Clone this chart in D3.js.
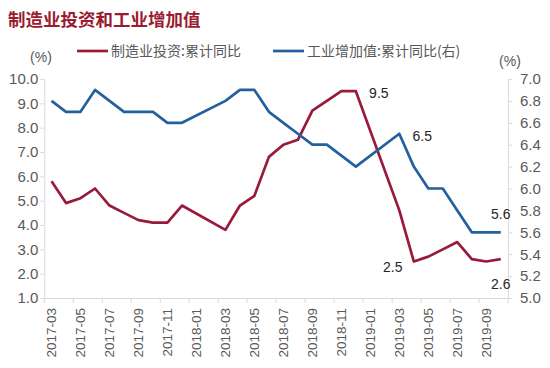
<!DOCTYPE html>
<html>
<head>
<meta charset="utf-8">
<script src="https://cdn.jsdelivr.net/npm/d3@7"></script>
<style>
    body { margin: 0; background: #fff; }
    .tick text { fill: #595959; }
</style>
</head>
<body>
<div class="chart"></div>
<script>
const title = '制造业投资和工业增加值'
const seriesNames = ['制造业投资:累计同比', '工业增加值:累计同比(右)']

const months = [
    '2017-03', '2017-04', '2017-05', '2017-06', '2017-07', '2017-08', '2017-09', '2017-10', '2017-11', '2017-12',
    '2018-01', '2018-02', '2018-03', '2018-04', '2018-05', '2018-06', '2018-07', '2018-08', '2018-09', '2018-10',
    '2018-11', '2018-12', '2019-01', '2019-02', '2019-03', '2019-04', '2019-05', '2019-06', '2019-07', '2019-08',
    '2019-09', '2019-10'
]
// Jan/Feb are not published separately, the line just bridges them
const investment = [
    5.8, 4.9, 5.1, 5.5, 4.8, 4.5, 4.2, 4.1, 4.1, 4.8,
    null, null, 3.8, 4.8, 5.2, 6.8, 7.3, 7.5, 8.7, 9.1,
    9.5, 9.5, null, null, 4.6, 2.5, 2.7, 3.0, 3.3, 2.6,
    2.5, 2.6
]
const valueAdded = [
    6.8, 6.7, 6.7, 6.9, 6.8, 6.7, 6.7, 6.7, 6.6, 6.6,
    null, null, 6.8, 6.9, 6.9, 6.7, 6.6, 6.5, 6.4, 6.4,
    6.3, 6.2, null, null, 6.5, 6.2, 6.0, 6.0, 5.8, 5.6,
    5.6, 5.6
]
const leftTicks = [1, 2, 3, 4, 5, 6, 7, 8, 9, 10]
const rightTicks = [5.0, 5.2, 5.4, 5.6, 5.8, 6.0, 6.2, 6.4, 6.6, 6.8, 7.0]
const xLabels = months.filter((m, i) => i % 2 === 0)
// which points get a value label
const labelPoints = [
    ['investment', '2018-12'],
    ['investment', '2019-04'],
    ['investment', '2019-10'],
    ['valueAdded', '2019-03'],
    ['valueAdded', '2019-10']
]

class DualAxisChart {

    constructor(options) {
        this.fullWidth = options.width
        this.fullHeight = options.height
        this.margin = { top: 79, right: 42, bottom: 70, left: 44.3 }
        this.width = this.fullWidth - this.margin.left - this.margin.right
        this.height = this.fullHeight - this.margin.top - this.margin.bottom
        this.red = '#9a1a3b'
        this.blue = '#23609e'
        this.axisColour = '#d9d9d9'
        this.textColour = '#595959'
        this.numberFont = '"Liberation Sans", Arial, sans-serif'
        this.cjkFont = '"Noto Sans CJK SC", sans-serif'
    }

    render() {
        this.svg = d3.select('.chart').append('svg')
            .attr('width', this.fullWidth)
            .attr('height', this.fullHeight)
        this.canvas = this.svg.append('g')
            .attr('transform', `translate(${this.margin.left}, ${this.margin.top})`)
        this.prepareScales()
        this.createAxes()
        this.drawLines()
        this.drawLabels()
        this.drawHeader()
    }

    prepareScales() {
        this.x = d3.scaleBand().domain(months).range([0, this.width]).padding(0)
        this.yLeft = d3.scaleLinear().domain([1, 10]).range([this.height, 0])
        this.yRight = d3.scaleLinear().domain([5, 7]).range([this.height, 0])
    }

    cx(m) {
        return this.x(m) + this.x.bandwidth() / 2
    }

    createAxes() {
        let left = this.canvas.append('g')
            .call(d3.axisLeft(this.yLeft).tickValues(leftTicks).tickFormat(d3.format('.1f'))
                .tickSize(4).tickSizeOuter(0).tickPadding(2))
        let right = this.canvas.append('g')
            .attr('transform', `translate(${this.width}, 0)`)
            .call(d3.axisRight(this.yRight).tickValues(rightTicks).tickFormat(d3.format('.1f'))
                .tickSize(4).tickSizeOuter(0).tickPadding(8))
        ;[left, right].forEach(g => {
            g.style('font-family', this.numberFont).style('font-size', '15px')
        })

        // category axis: labels sit in the band, ticks on band edges
        let bottom = this.canvas.append('g')
            .attr('transform', `translate(0, ${this.height})`)
            .call(d3.axisBottom(this.x).tickValues(xLabels).tickSize(0).tickSizeOuter(0))
        bottom.selectAll('.tick text')
            .attr('transform', 'translate(0, 10) rotate(-90)')
            .attr('x', 0).attr('y', 0).attr('dy', '0.35em')
            .attr('text-anchor', 'end')
            .style('font-family', this.numberFont)
            .style('font-size', '13.5px')
        let edges = xLabels.map(m => this.x(m)).concat([this.width])
        bottom.selectAll('.edge').data(edges).enter().append('line')
            .attr('class', 'edge')
            .attr('x1', d => d).attr('x2', d => d)
            .attr('y1', 0).attr('y2', 5)

        this.canvas.selectAll('.domain, .tick line, .edge').style('stroke', this.axisColour)
    }

    drawLines() {
        let sets = [
            { values: investment, y: this.yLeft, colour: this.red },
            { values: valueAdded, y: this.yRight, colour: this.blue }
        ]
        sets.forEach(s => {
            let pts = months.map((m, i) => ({ m: m, v: s.values[i] })).filter(d => d.v !== null)
            let line = d3.line().x(d => this.cx(d.m)).y(d => s.y(d.v))
            this.canvas.append('path')
                .datum(pts)
                .attr('d', line)
                .attr('fill', 'none')
                .attr('stroke', s.colour)
                .attr('stroke-width', 2.7)
                .attr('stroke-linejoin', 'round')
        })
    }

    drawLabels() {
        let lookup = {
            investment: { values: investment, y: this.yLeft },
            valueAdded: { values: valueAdded, y: this.yRight }
        }
        let offsets = [[23, 2], [-21, 6], [0, 25], [23, 2], [0, -18]]
        labelPoints.forEach((p, i) => {
            let s = lookup[p[0]], idx = months.indexOf(p[1]), v = s.values[idx]
            this.canvas.append('text')
                .attr('x', this.cx(p[1]) + offsets[i][0])
                .attr('y', s.y(v) + offsets[i][1])
                .attr('dy', '0.35em')
                .attr('text-anchor', 'middle')
                .style('font-family', this.numberFont)
                .style('font-size', '14px')
                .style('fill', '#262626')
                .text(d3.format('.1f')(v))
        })
    }

    drawHeader() {
        this.svg.append('text')
            .attr('x', 8).attr('y', 20).attr('dy', '0.35em')
            .style('font-family', this.cjkFont)
            .style('font-weight', 'bold')
            .style('font-size', '17.5px')
            .style('fill', '#9b1b30')
            .text(title)

        let units = [[41, 57], [510, 61.5]]
        units.forEach(u => {
            this.svg.append('text')
                .attr('x', u[0]).attr('y', u[1]).attr('dy', '0.35em')
                .attr('text-anchor', 'middle')
                .style('font-family', this.numberFont)
                .style('font-size', '14px')
                .style('fill', this.textColour)
                .text('(%)')
        })

        let legend = this.svg.append('g').attr('transform', 'translate(77, 51)')
        let items = [{ x: 0, colour: this.red }, { x: 196, colour: this.blue }]
        items.forEach((it, i) => {
            legend.append('line')
                .attr('x1', it.x).attr('x2', it.x + 31)
                .attr('y1', 0).attr('y2', 0)
                .attr('stroke', it.colour)
                .attr('stroke-width', 2.7)
            legend.append('text')
                .attr('x', it.x + 34).attr('y', 0).attr('dy', '0.35em')
                .style('font-family', this.cjkFont)
                .style('font-size', '14px')
                .style('fill', this.textColour)
                .text(seriesNames[i])
        })
    }
}

new DualAxisChart({ width: 550, height: 368 }).render()
</script>
</body>
</html>
